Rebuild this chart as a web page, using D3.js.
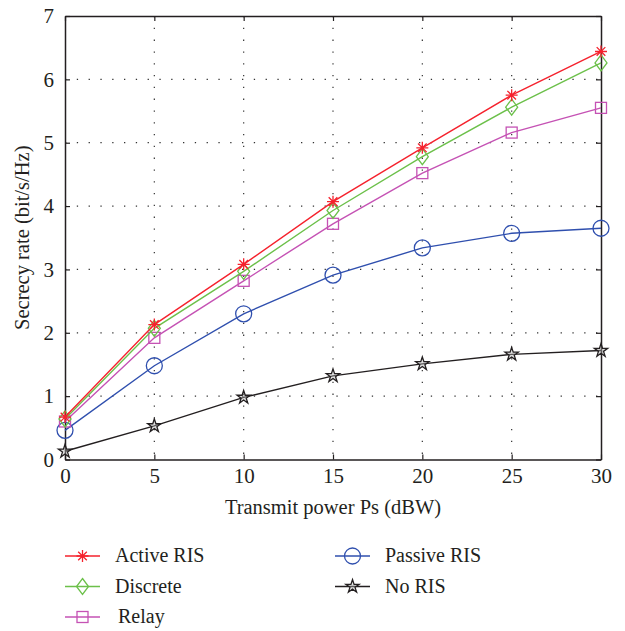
<!DOCTYPE html>
<html><head><meta charset="utf-8">
<script src="https://cdn.jsdelivr.net/npm/d3@7"></script>
<style>body{margin:0;background:#fff}svg{display:block}</style>
</head><body>
<svg id="c" width="625" height="631"></svg>
<script>
const xValues = [0, 5, 10, 15, 20, 25, 30];
const activeRIS = [0.67, 2.13, 3.08, 4.07, 4.92, 5.75, 6.44];
const discrete  = [0.64, 2.07, 2.97, 3.93, 4.78, 5.56, 6.26];
const relay     = [0.60, 1.92, 2.82, 3.72, 4.52, 5.16, 5.55];
const passiveRIS= [0.46, 1.48, 2.30, 2.91, 3.34, 3.57, 3.65];
const noRIS     = [0.13, 0.53, 0.98, 1.32, 1.51, 1.66, 1.72];
const xTicks = [0, 5, 10, 15, 20, 25, 30];
const yTicks = [0, 1, 2, 3, 4, 5, 6, 7];
const seriesNames = ["Active RIS", "Discrete", "Relay", "Passive RIS", "No RIS"];

const series = [
  {name: seriesNames[0], values: activeRIS, color: "#f5222d", marker: "asterisk"},
  {name: seriesNames[1], values: discrete, color: "#6cc04a", marker: "diamond"},
  {name: seriesNames[2], values: relay, color: "#c552b4", marker: "square"},
  {name: seriesNames[3], values: passiveRIS, color: "#2f4fae", marker: "circle"},
  {name: seriesNames[4], values: noRIS, color: "#231f20", marker: "star"}
];

const svg = d3.select("#c");
const L = 65, R = 601, T = 16, B = 459.5;
const x = d3.scaleLinear().domain([0, 30]).range([L, R]);
const y = d3.scaleLinear().domain([0, 7]).range([B, T]);
const font = "'Liberation Serif', 'Times New Roman', serif";
const txt = "#231f20";

// grid
const g = svg.append("g");
g.selectAll(".gx").data(xTicks.slice(1, -1)).join("line")
  .attr("x1", d => x(d)).attr("x2", d => x(d)).attr("y1", T).attr("y2", B)
  .attr("stroke", "#333").attr("stroke-width", 1.2).attr("stroke-dasharray", "1.3,10.5");
g.selectAll(".gy").data(yTicks.slice(1, -1)).join("line")
  .attr("y1", d => y(d)).attr("y2", d => y(d)).attr("x1", L).attr("x2", R)
  .attr("stroke", "#333").attr("stroke-width", 1.2).attr("stroke-dasharray", "1.3,10.5");

// axes via d3
const fmt = d3.format("d");
const xAxisB = d3.axisBottom(x).tickValues(xTicks).tickFormat(fmt).tickSizeInner(-5).tickSizeOuter(0).tickPadding(8.5);
const xAxisT = d3.axisTop(x).tickValues(xTicks).tickSizeInner(-5).tickSizeOuter(0).tickFormat("");
const yAxisL = d3.axisLeft(y).tickValues(yTicks).tickFormat(fmt).tickSizeInner(-5).tickSizeOuter(0).tickPadding(11);
const yAxisR = d3.axisRight(y).tickValues(yTicks).tickSizeInner(-5).tickSizeOuter(0).tickFormat("");
function style(sel) {
  sel.selectAll("path").attr("stroke", "#231f20").attr("stroke-width", 1.5);
  sel.selectAll("line").attr("stroke", "#231f20").attr("stroke-width", 1.2);
  sel.selectAll("text").attr("font-family", font).attr("font-size", 21).attr("fill", txt);
}
svg.append("g").attr("transform", `translate(0,${B})`).call(xAxisB).call(style);
svg.append("g").attr("transform", `translate(0,${T})`).call(xAxisT).call(style);
svg.append("g").attr("transform", `translate(${L},0)`).call(yAxisL).call(style);
svg.append("g").attr("transform", `translate(${R},0)`).call(yAxisR).call(style);

// axis titles
svg.append("text").attr("x", (L + R) / 2).attr("y", 514).attr("text-anchor", "middle")
  .attr("font-family", font).attr("font-size", 20.5).attr("fill", txt).text("Transmit power Ps (dBW)");
svg.append("text").attr("transform", `translate(29,${(T + B) / 2}) rotate(-90)`).attr("text-anchor", "middle")
  .attr("font-family", font).attr("font-size", 20.5).attr("fill", txt).text("Secrecy rate (bit/s/Hz)");

function drawMarker(sel, type, color) {
  if (type === "asterisk") {
    const s = 6;
    sel.append("path").attr("d", `M${-s},0H${s}M0,${-s}V${s}M${-s*0.72},${-s*0.72}L${s*0.72},${s*0.72}M${-s*0.72},${s*0.72}L${s*0.72},${-s*0.72}`)
      .attr("stroke", color).attr("stroke-width", 1.3).attr("fill", "none");
  } else if (type === "diamond") {
    sel.append("path").attr("d", "M0,-8L6,0L0,8L-6,0Z").attr("stroke", color).attr("stroke-width", 1.3).attr("fill", "none");
  } else if (type === "square") {
    sel.append("rect").attr("x", -5.5).attr("y", -5.5).attr("width", 11).attr("height", 11)
      .attr("stroke", color).attr("stroke-width", 1.3).attr("fill", "none");
  } else if (type === "circle") {
    sel.append("circle").attr("r", 8).attr("stroke", color).attr("stroke-width", 1.3).attr("fill", "none");
  } else if (type === "star") {
    sel.append("path").attr("d", d3.symbol(d3.symbolStar, 55)()).attr("stroke", color)
      .attr("stroke-width", 1.3).attr("fill", "#b5b5b5").attr("fill-opacity", 0.4);
  }
}

const line = d3.line().x((d, i) => x(xValues[i])).y(d => y(d));
series.slice().reverse().forEach(s => {
  svg.append("path").datum(s.values).attr("d", line).attr("fill", "none")
    .attr("stroke", s.color).attr("stroke-width", 1.4);
  s.values.forEach((v, i) => {
    const m = svg.append("g").attr("transform", `translate(${x(xValues[i])},${y(v)})`);
    drawMarker(m, s.marker, s.color);
  });
});

// legend
const legendPos = [
  {lx: 65, ly: 556}, {lx: 65, ly: 586.5}, {lx: 65, ly: 617},
  {lx: 335, ly: 556}, {lx: 335, ly: 586.5}
];
series.forEach((s, i) => {
  const p = legendPos[i];
  const lg = svg.append("g");
  lg.append("line").attr("x1", p.lx).attr("x2", p.lx + 35).attr("y1", p.ly).attr("y2", p.ly)
    .attr("stroke", s.color).attr("stroke-width", 1.4);
  drawMarker(lg.append("g").attr("transform", `translate(${p.lx + 17.5},${p.ly})`), s.marker, s.color);
  lg.append("text").attr("x", p.lx + (i === 2 ? 53 : 50)).attr("y", p.ly + 6)
    .attr("font-family", font).attr("font-size", 20).attr("fill", txt).text(s.name);
});
</script>
</body></html>
